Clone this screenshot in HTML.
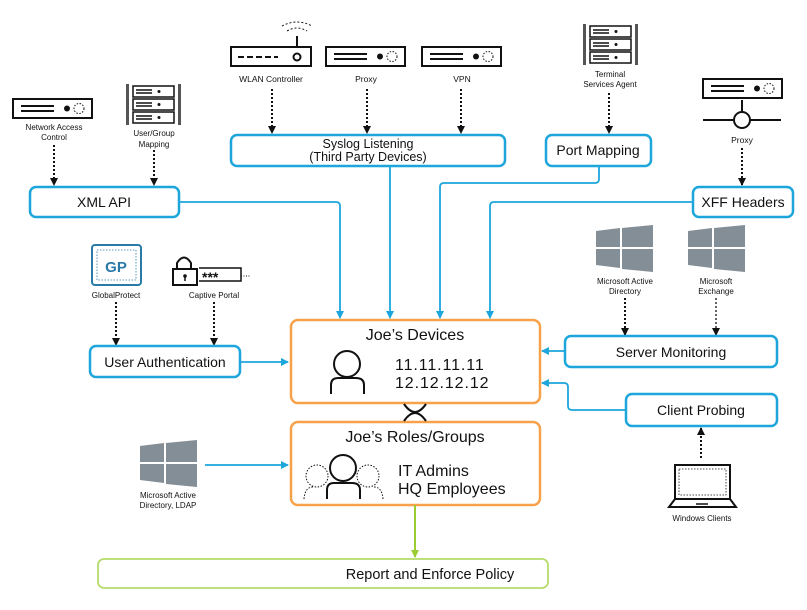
<!DOCTYPE html>
<html><head><meta charset="utf-8"><style>
html,body{margin:0;padding:0;background:#fff}
svg{display:block}
text{font-family:"Liberation Sans",sans-serif;fill:#111}
</style></head><body>
<svg width="807" height="610" viewBox="0 0 807 610" xmlns="http://www.w3.org/2000/svg">
<defs>
<marker id="ab" markerWidth="8" markerHeight="8" refX="7" refY="4" orient="auto" markerUnits="userSpaceOnUse"><path d="M0,0 L8,4 L0,8 z" fill="#1ca6dc"/></marker>
<marker id="ak" markerWidth="8" markerHeight="8" refX="7" refY="4" orient="auto" markerUnits="userSpaceOnUse"><path d="M0,0 L8,4 L0,8 z" fill="#111"/></marker>
<marker id="ag" markerWidth="8" markerHeight="8" refX="7" refY="4" orient="auto" markerUnits="userSpaceOnUse"><path d="M0,0 L8,4 L0,8 z" fill="#9acd32"/></marker>
<g id="srv"><rect x="1" y="1" width="79" height="19" fill="#fff" stroke="#111" stroke-width="2"/><line x1="9" y1="8" x2="42" y2="8" stroke="#111" stroke-width="2"/><line x1="9" y1="13" x2="42" y2="13" stroke="#111" stroke-width="2"/><circle cx="55" cy="10.5" r="3" fill="#111"/><circle cx="67" cy="10.5" r="5" fill="none" stroke="#111" stroke-dasharray="1.5 1.5"/></g>
<g id="rack"><rect x="0" y="0" width="3" height="41" fill="#555"/><rect x="52" y="0" width="3" height="41" fill="#555"/>
<rect x="7" y="2" width="41" height="11" fill="none" stroke="#111" stroke-width="1.5"/><rect x="7" y="15" width="41" height="11" fill="none" stroke="#111" stroke-width="1.5"/><rect x="7" y="28" width="41" height="11" fill="none" stroke="#111" stroke-width="1.5"/>
<g stroke="#111" stroke-width="1.5"><line x1="10" y1="6" x2="26" y2="6"/><line x1="10" y1="9" x2="26" y2="9"/><line x1="10" y1="19" x2="26" y2="19"/><line x1="10" y1="22" x2="26" y2="22"/><line x1="10" y1="32" x2="26" y2="32"/><line x1="10" y1="35" x2="26" y2="35"/></g>
<circle cx="33" cy="7.5" r="1.5" fill="#111"/><circle cx="33" cy="20.5" r="1.5" fill="#111"/><circle cx="33" cy="33.5" r="1.5" fill="#111"/></g>
<g id="win"><path d="M0,6 L24,3 L24,22 L0,22 z M26,3 L57,0 L57,22 L26,22 z M0,24 L24,24 L24,43 L0,40 z M26,24 L57,24 L57,47 L26,44 z" fill="#838e96"/></g>
</defs>

<use href="#srv" x="12" y="98"/>
<text x="54" y="130" font-size="8" text-anchor="middle">Network Access</text>
<text x="54" y="140" font-size="8" text-anchor="middle">Control</text>
<use href="#rack" x="126" y="84"/>
<text x="154" y="136" font-size="8" text-anchor="middle">User/Group</text>
<text x="154" y="147" font-size="8" text-anchor="middle">Mapping</text>

<rect x="231" y="47" width="80" height="19" fill="#fff" stroke="#111" stroke-width="2"/>
<line x1="238" y1="57" x2="278" y2="57" stroke="#111" stroke-width="2" stroke-dasharray="6 3"/>
<circle cx="297" cy="57" r="3.5" fill="none" stroke="#111" stroke-width="2"/>
<line x1="297" y1="46" x2="297" y2="36" stroke="#111" stroke-width="2"/>
<path d="M287,31 Q297,25 307,31" fill="none" stroke="#111" stroke-dasharray="2 2"/>
<path d="M282,26 Q297,18 312,26" fill="none" stroke="#111" stroke-dasharray="2 2"/>
<text x="271" y="82" font-size="8.5" text-anchor="middle">WLAN Controller</text>
<use href="#srv" x="325" y="46"/>
<text x="366" y="82" font-size="8.5" text-anchor="middle">Proxy</text>
<use href="#srv" x="421" y="46"/>
<text x="462" y="82" font-size="8.5" text-anchor="middle">VPN</text>
<use href="#rack" x="583" y="24"/>
<text x="610" y="77" font-size="8" text-anchor="middle">Terminal</text>
<text x="610" y="87" font-size="8" text-anchor="middle">Services Agent</text>
<use href="#srv" x="702" y="78"/>
<line x1="742" y1="100" x2="742" y2="113" stroke="#111" stroke-width="2"/>
<line x1="703" y1="120" x2="781" y2="120" stroke="#111" stroke-width="2"/>
<circle cx="742" cy="120" r="8" fill="#fff" stroke="#111" stroke-width="2"/>
<text x="742" y="143" font-size="8.5" text-anchor="middle">Proxy</text>

<g stroke="#111" stroke-width="2" stroke-dasharray="2 2" marker-end="url(#ak)">
<line x1="54" y1="145" x2="54" y2="185"/>
<line x1="154" y1="150" x2="154" y2="185"/>
<line x1="272" y1="89" x2="272" y2="133"/>
<line x1="367" y1="89" x2="367" y2="133"/>
<line x1="461" y1="89" x2="461" y2="133"/>
<line x1="609" y1="93" x2="609" y2="133"/>
<line x1="742" y1="148" x2="742" y2="185"/>
<line x1="116" y1="302" x2="116" y2="345"/>
<line x1="214" y1="302" x2="214" y2="345"/>
<line x1="625" y1="298" x2="625" y2="335"/>
<line x1="716" y1="298" x2="716" y2="335" stroke-width="1.3"/>
<line x1="701" y1="458" x2="701" y2="428"/>
</g>

<g fill="#fff" stroke="#1ca6dc" stroke-width="2.5">
<rect x="30" y="187" width="149" height="30" rx="6"/>
<rect x="231" y="135" width="274" height="31" rx="6"/>
<rect x="546" y="135" width="105" height="31" rx="6"/>
<rect x="693" y="187" width="100" height="30" rx="6"/>
<rect x="90" y="346" width="150" height="31" rx="6"/>
<rect x="565" y="336" width="212" height="31" rx="6"/>
<rect x="626" y="394" width="151" height="32" rx="6"/>
</g>
<text x="104" y="207" font-size="14" text-anchor="middle">XML API</text>
<text x="368" y="148" font-size="12.5" text-anchor="middle">Syslog Listening</text>
<text x="368" y="161" font-size="12.5" text-anchor="middle">(Third Party Devices)</text>
<text x="598" y="155" font-size="14" text-anchor="middle">Port Mapping</text>
<text x="743" y="207" font-size="14" text-anchor="middle">XFF Headers</text>
<text x="165" y="367" font-size="14" text-anchor="middle">User Authentication</text>
<text x="671" y="357" font-size="14" text-anchor="middle">Server Monitoring</text>
<text x="701" y="415" font-size="14" text-anchor="middle">Client Probing</text>

<g fill="none" stroke="#1ca6dc" stroke-width="1.8" marker-end="url(#ab)">
<path d="M179,202 L336,202 Q340,202 340,206 L340,318"/>
<path d="M390,166 L390,318"/>
<path d="M599,166 L599,179 Q599,183 595,183 L444,183 Q440,183 440,187 L440,318"/>
<path d="M693,202 L494,202 Q490,202 490,206 L490,318"/>
<path d="M240,362 L288,362"/>
<path d="M565,351 L542,351"/>
<path d="M626,410 L572,410 Q568,410 568,406 L568,387 Q568,383 564,383 L542,383"/>
<path d="M205,465 L288,465"/>
</g>

<rect x="92" y="245" width="49" height="40" rx="3" fill="#fff" stroke="#2a7aa8" stroke-width="2"/>
<rect x="97" y="250" width="39" height="30" fill="none" stroke="#2a7aa8" stroke-width="0.8" stroke-dasharray="1.5 1.5"/>
<text x="116" y="272" font-size="15" font-weight="bold" text-anchor="middle" style="fill:#2a7aa8">GP</text>
<text x="116" y="298" font-size="8" text-anchor="middle">GlobalProtect</text>
<path d="M177,270 L177,263 Q184,252 191,263 L191,270" fill="none" stroke="#111" stroke-width="2"/>
<rect x="173" y="269" width="24" height="16" fill="#fff" stroke="#111" stroke-width="2"/>
<circle cx="185" cy="276" r="1.8" fill="#111"/><line x1="185" y1="276" x2="185" y2="281" stroke="#111" stroke-width="1.5"/>
<path d="M199,268 L241,268 L241,281 L199,281" fill="none" stroke="#111" stroke-width="1.5"/>
<text x="202" y="282" font-size="14" font-weight="bold">***</text>
<line x1="241" y1="276" x2="251" y2="276" stroke="#111" stroke-dasharray="1 1.5"/>
<text x="214" y="298" font-size="8" text-anchor="middle">Captive Portal</text>

<use href="#win" x="596" y="225"/>
<text x="625" y="284" font-size="8" text-anchor="middle">Microsoft Active</text>
<text x="625" y="294" font-size="8" text-anchor="middle">Directory</text>
<use href="#win" x="688" y="225"/>
<text x="716" y="284" font-size="8" text-anchor="middle">Microsoft</text>
<text x="716" y="294" font-size="8" text-anchor="middle">Exchange</text>
<use href="#win" x="140" y="440"/>
<text x="168" y="498" font-size="8" text-anchor="middle">Microsoft Active</text>
<text x="168" y="508" font-size="8" text-anchor="middle">Directory, LDAP</text>

<rect x="675" y="465" width="55" height="34" fill="#fff" stroke="#111" stroke-width="2"/>
<rect x="679" y="469" width="47" height="26" fill="none" stroke="#111" stroke-width="0.8" stroke-dasharray="1.5 1.5"/>
<path d="M675,499 L669,507 L736,507 L730,499" fill="none" stroke="#111" stroke-width="2"/>
<line x1="696" y1="504" x2="708" y2="504" stroke="#111" stroke-width="1.5"/>
<text x="702" y="521" font-size="8" text-anchor="middle">Windows Clients</text>

<rect x="291" y="320" width="249" height="83" rx="7" fill="#fff" stroke="#f7a24b" stroke-width="2.5"/>
<rect x="291" y="422" width="249" height="83" rx="7" fill="#fff" stroke="#f7a24b" stroke-width="2.5"/>
<text x="415" y="340" font-size="16" text-anchor="middle">Joe’s Devices</text>
<circle cx="347" cy="364" r="13" fill="none" stroke="#111" stroke-width="2"/>
<path d="M331,394 L331,385 Q331,378 338,378 L356,378 Q364,378 364,385 L364,394" fill="none" stroke="#111" stroke-width="2"/>
<text x="395" y="370" font-size="16" letter-spacing="0.9">11.11.11.11</text>
<text x="395" y="388" font-size="16" letter-spacing="0.9">12.12.12.12</text>
<text x="415" y="442" font-size="16" text-anchor="middle">Joe’s Roles/Groups</text>
<circle cx="317" cy="476" r="11" fill="none" stroke="#111" stroke-dasharray="1.5 1.5"/>
<circle cx="368" cy="476" r="11" fill="none" stroke="#111" stroke-dasharray="1.5 1.5"/>
<path d="M304,499 Q305,487 313,487" fill="none" stroke="#111" stroke-dasharray="1.5 1.5"/>
<path d="M383,499 Q382,487 374,487" fill="none" stroke="#111" stroke-dasharray="1.5 1.5"/>
<circle cx="343" cy="468" r="13" fill="#fff" stroke="#111" stroke-width="2"/>
<path d="M327,499 L327,490 Q327,483 334,483 L352,483 Q360,483 360,490 L360,499" fill="none" stroke="#111" stroke-width="2"/>
<text x="398" y="476" font-size="16">IT Admins</text>
<text x="398" y="494" font-size="16">HQ Employees</text>

<path d="M404,404 Q415,420 426,404 M404,421 Q415,405 426,421" fill="none" stroke="#111" stroke-width="2"/>

<line x1="415" y1="505" x2="415" y2="557" stroke="#9acd32" stroke-width="2" marker-end="url(#ag)"/>
<rect x="98" y="559" width="450" height="29" rx="6" fill="#fff" stroke="#b5dc6a" stroke-width="1.8"/>
<text x="430" y="579" font-size="14.5" text-anchor="middle">Report and Enforce Policy</text>
</svg>
</body></html>
